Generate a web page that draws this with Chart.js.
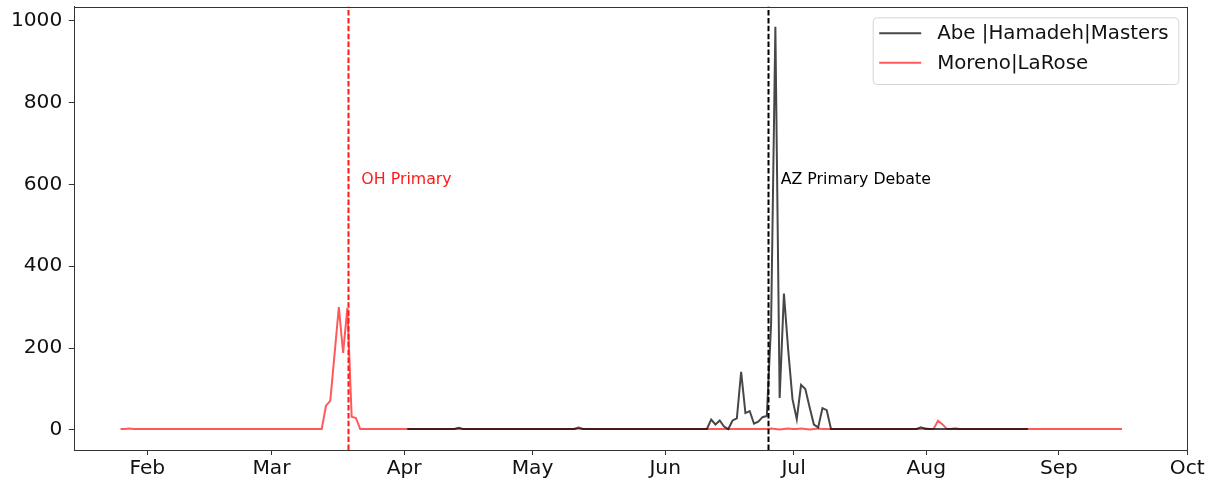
<!DOCTYPE html>
<html>
<head>
<meta charset="utf-8">
<script src="https://cdn.jsdelivr.net/npm/chart.js@4.4.1/dist/chart.umd.min.js"></script>
<style>
html,body{margin:0;padding:0;background:#fff;}
#wrap{width:1212px;height:481px;}
</style>
</head>
<body>
<div id="wrap"><canvas id="c" width="1212" height="481"></canvas></div>
<script>
// ---- data (2024, daily) ----
const seriesLabels = ['Abe |Hamadeh|Masters', 'Moreno|LaRose'];
const blackStart = '2024-04-01T18:00';
const redStart = '2024-01-25T18:00';

// Abe |Hamadeh|Masters : Apr 1 .. Aug 24
const blackValues = [
  2,2,2,2,2,2,2,2,2,2,2,2,            // Apr 1-12
  5,                                  // Apr 13
  2,2,2,2,2,2,2,2,2,2,2,2,2,2,2,2,2,2,2,2,2,2,2,2,2,2,2, // Apr 14 - May 10
  4,                                  // May 11
  2,2,2,2,2,2,2,2,2,2,2,2,2,2,2,2,2,2,2,2,2,2,2,2,2,2,2,2,2,2, // May 12 - Jun 10
  25,13,23,8,2,23,28,142,41,46,15,20,31,34, // Jun 11 - Jun 24
  258,985,78,333,195,75,26,110,100,55,13,6,53,48, // Jun 25 - Jul 8
  2,2,2,2,2,2,2,2,2,2,2,2,2,2,2,2,2,2,2,2,2, // Jul 9 - Jul 29
  6,                                  // Jul 30
  2,2,2,2,2,2,2,2,2,2,2,2,2,2,2,2,2,2,2,2,2,2,2,2,2 // Jul 31 - Aug 24
];

// Moreno|LaRose : Jan 25 .. Sep 15
const redValues = [
  2,2,3,2,2,2,2,2,2,2,2,2,2,2,2,2,2,2,2,2,2,2,2,2,  // Jan 25 - Feb 17
  2,2,2,2,2,2,2,2,2,2,2,2,2,2,2,2,2,2,2,2,2,2,2,     // Feb 18 - Mar 11
  2,59,71,185,300,188,298,32,29,                      // Mar 12 - Mar 20
  2,2,2,2,2,2,2,2,2,2,2,2,2,2,2,2,2,2,2,2,2,2,2,2,2,  // Mar 21 - Apr 14
  2,2,2,2,2,2,2,2,2,2,2,2,2,2,2,2,2,2,2,2,2,2,2,2,2,  // Apr 15 - May 9
  2,6,2,                                               // May 10 - May 12
  2,2,2,2,2,2,2,2,2,2,2,2,2,2,2,2,2,2,2,2,2,2,2,2,2,2,2,2,2,2, // May 13 - Jun 11
  2,2,2,2,2,2,2,2,2,2,2,2,2,3,2,1,2,3,2,2,3,2,1,2,3,2,2,2,   // Jun 12 - Jul 9
  2,2,2,2,2,2,2,2,2,2,2,2,2,2,2,2,2,2,2,2,               // Jul 10 - Jul 29
  2,4,2,3,22,14,3,2,4,2,                                  // Jul 30 - Aug 8
  2,2,2,2,2,2,2,2,2,2,2,2,2,2,2,2,2,2,2,2,2,2,2,2,2,2,2,2,2,2,2,2,2,2,2,2,2,2 // Aug 9 - Sep 15
];

const tickDates = ['2024-02-01','2024-03-01','2024-04-01','2024-05-01','2024-06-01','2024-07-01','2024-08-01','2024-09-01','2024-10-01'];
const tickLabels = ['Feb','Mar','Apr','May','Jun','Jul','Aug','Sep','Oct'];
const yTicks = [0,200,400,600,800,1000];

const eventDates = ['2024-03-19','2024-06-25'];
const eventLabels = ['OH Primary','AZ Primary Debate'];
const eventLabelY = 600;

// ---- helpers ----
const YEAR0 = Date.UTC(2024,0,1);
function toDay(s){ const t = s.length > 10 ? s : s + 'T00:00'; return (Date.parse(t + ':00Z') - YEAR0) / 86400000; }
function toPoints(start, vals){ const d0 = toDay(start); return vals.map((v,i)=>({x:d0+i, y:v})); }

const FONT = 'DejaVu Sans';
const blackColor = 'rgba(0,0,0,0.72)';
const redColor = 'rgba(255,0,0,0.65)';
const eventColors = ['#ff1a1a','#000000'];

const overlay = {
  id:'overlay',
  afterDatasetsDraw(chart){
    const {ctx, chartArea:a, scales:{x,y}} = chart;
    ctx.save();
    // event lines
    eventDates.forEach((d,i)=>{
      const px = Math.round(x.getPixelForValue(toDay(d))) + 0.5;
      ctx.beginPath();
      ctx.setLineDash([5.5,2.4]);
      ctx.lineWidth = 2;
      ctx.strokeStyle = eventColors[i];
      ctx.moveTo(px, a.bottom); ctx.lineTo(px, a.top);
      ctx.stroke();
      ctx.setLineDash([]);
      ctx.font = '15.8px "' + FONT + '"';
      ctx.fillStyle = eventColors[i];
      ctx.textBaseline = 'alphabetic';
      ctx.textAlign = 'left';
      ctx.fillText(eventLabels[i], x.getPixelForValue(toDay(d) + 3), y.getPixelForValue(eventLabelY));
    });
    // frame
    ctx.strokeStyle = '#333';
    ctx.lineWidth = 1;
    ctx.strokeRect(Math.round(a.left)+0.5, Math.round(a.top)+0.5, Math.round(a.right-a.left), Math.round(a.bottom-a.top));
    // legend
    const lx = a.right - 314.6, ly = a.top + 10.6, lw = 305.6, lh = 66.7;
    ctx.beginPath();
    ctx.roundRect(lx+0.5, ly+0.5, lw, lh, 4);
    ctx.fillStyle = 'rgba(255,255,255,0.85)';
    ctx.fill();
    ctx.strokeStyle = '#d6d6d6';
    ctx.stroke();
    const cols = [blackColor, redColor];
    chart.data.datasets.forEach((ds,i)=>{
      const yy = ly + 16 + i*29.4;
      ctx.beginPath();
      ctx.strokeStyle = cols[i];
      ctx.lineWidth = 2;
      ctx.moveTo(lx+6.5, yy); ctx.lineTo(lx+48.5, yy);
      ctx.stroke();
      ctx.fillStyle = '#111';
      ctx.font = '19.8px "' + FONT + '"';
      ctx.textBaseline = 'middle';
      ctx.textAlign = 'left';
      ctx.fillText(ds.label, lx+64.5, yy+1);
    });
    ctx.restore();
  }
};

new Chart(document.getElementById('c'), {
  type:'line',
  data:{
    datasets:[
      {label:seriesLabels[0], data:toPoints(blackStart, blackValues), borderColor:blackColor, borderWidth:2, pointRadius:0, tension:0, fill:false},
      {label:seriesLabels[1], data:toPoints(redStart, redValues), borderColor:redColor, borderWidth:2, pointRadius:0, tension:0, fill:false}
    ]
  },
  options:{
    responsive:false,
    animation:false,
    devicePixelRatio:1,
    layout:{padding:{top:6.7, right:24.7, left:0, bottom:0}},
    plugins:{legend:{display:false}, tooltip:{enabled:false}},
    scales:{
      x:{
        type:'linear', min:13.94, max:274,
        afterBuildTicks(s){ s.ticks = tickDates.map(d=>({value:toDay(d)})); },
        afterFit(s){ s.height = 31; s.paddingLeft = 0; s.paddingRight = 0; },
        ticks:{ callback:(v,i)=>tickLabels[i], font:{family:FONT, size:20.2}, color:'#111', padding:2, maxRotation:0, autoSkip:false },
        grid:{ drawOnChartArea:false, drawTicks:true, tickLength:5, color:'#333' },
        border:{ display:true, color:'#333', width:1 }
      },
      y:{
        type:'linear', min:-49.25, max:1034.25,
        afterBuildTicks(s){ s.ticks = yTicks.map(v=>({value:v})); },
        afterFit(s){ s.width = 74.3; s.paddingTop = 0; s.paddingBottom = 0; },
        ticks:{ callback:(v)=>String(v), font:{family:FONT, size:20.2}, color:'#111', padding:6.5 },
        grid:{ drawOnChartArea:false, drawTicks:true, tickLength:5.5, color:'#333' },
        border:{ display:true, color:'#333', width:1 }
      }
    }
  },
  plugins:[overlay]
});
</script>
</body>
</html>
